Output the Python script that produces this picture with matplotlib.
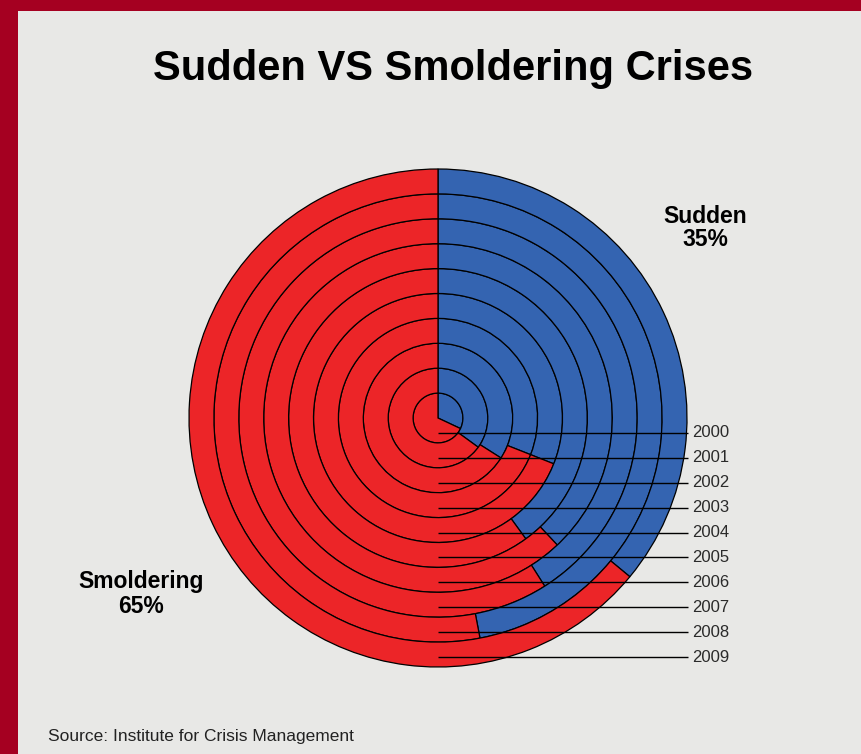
import matplotlib
matplotlib.use("Agg")
import matplotlib.pyplot as plt
from matplotlib.patches import Rectangle

# ---- data ----
years = ["2000", "2001", "2002", "2003", "2004", "2005", "2006", "2007", "2008", "2009"]
sudden = [32, 35, 34, 31, 31, 40, 38, 41, 47, 36]
smoldering = [68, 65, 66, 69, 69, 60, 62, 59, 53, 64]
series_names = ["Sudden", "Smoldering"]
series_totals = ["35%", "65%"]
title = "Sudden VS Smoldering Crises"
source = "Source: Institute for Crisis Management"

# ---- style ----
W, H = 861, 754
BG = "#E8E8E6"
BORDER = "#A50021"
BLUE = "#3464B1"
RED = "#EC2528"
plt.rcParams["font.family"] = ["Liberation Sans", "DejaVu Sans"]

fig = plt.figure(figsize=(W / 100, H / 100), dpi=100)
fig.patch.set_facecolor(BG)

# red frame (left and top strips)
fig.patches.append(Rectangle((0, 0), 18 / W, 1, transform=fig.transFigure,
                             facecolor=BORDER, edgecolor="none", zorder=0))
fig.patches.append(Rectangle((0, 1 - 11 / H), 1, 11 / H, transform=fig.transFigure,
                             facecolor=BORDER, edgecolor="none", zorder=0))

# pie axes: centre at (438, 418) px, ring width 24.9 px
cx, cy, unit = 438.0, 418.0, 24.9
half = 10.5
ax = fig.add_axes([(cx - half * unit) / W, (H - cy - half * unit) / H,
                   2 * half * unit / W, 2 * half * unit / H])
ax.set_xlim(-half, half)
ax.set_ylim(-half, half)
ax.set_aspect("equal")
ax.axis("off")

n = len(years)
for k in range(n):
    ax.pie([sudden[k], smoldering[k]], radius=k + 1, startangle=90,
           counterclock=False, colors=[BLUE, RED],
           wedgeprops=dict(width=1, edgecolor="black", linewidth=0.9))
ax.set_xlim(-half, half)
ax.set_ylim(-half, half)

# leader lines and year labels
for k, yr in enumerate(years):
    yy = -(k + 0.6)
    ax.plot([0, 10.05], [yy, yy], color="black", lw=1.0, zorder=5,
            solid_capstyle="butt")
    ax.text(10.2, yy, yr, ha="left", va="center", fontsize=12,
            color="#2a2a2a", clip_on=False)

# title
fig.text(453 / W, 1 - 80 / H, title, ha="center", va="baseline",
         fontsize=30, fontweight="bold", color="black")

# series annotations
fig.text(705 / W, 1 - 223 / H, series_names[0], ha="center", va="baseline",
         fontsize=16.5, fontweight="bold", color="black")
fig.text(705 / W, 1 - 246 / H, series_totals[0], ha="center", va="baseline",
         fontsize=16.5, fontweight="bold", color="black")
fig.text(141 / W, 1 - 588 / H, series_names[1], ha="center", va="baseline",
         fontsize=16.5, fontweight="bold", color="black")
fig.text(141 / W, 1 - 613 / H, series_totals[1], ha="center", va="baseline",
         fontsize=16.5, fontweight="bold", color="black")

# source
fig.text(48 / W, 1 - 741 / H, source, ha="left", va="baseline",
         fontsize=12.5, color="#222222")

fig.savefig("out.png", dpi=100, facecolor=BG)
